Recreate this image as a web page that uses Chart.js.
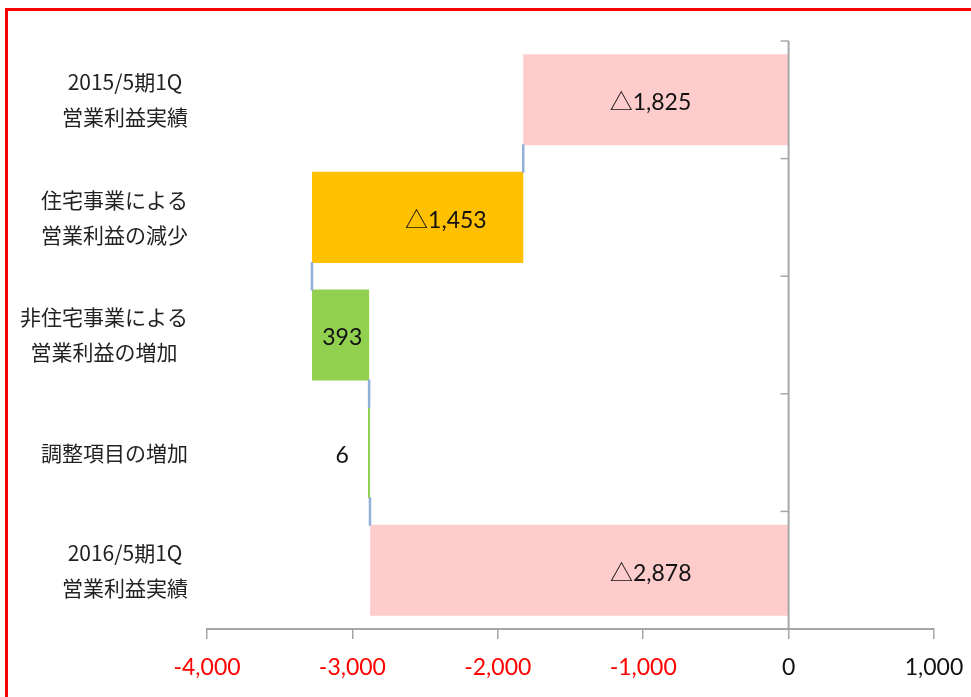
<!DOCTYPE html>
<html lang="ja">
<head>
<meta charset="utf-8">
<title>営業利益増減</title>
<style>
  html, body { margin: 0; padding: 0; background: #ffffff; overflow: hidden; }
  #wrap { position: relative; width: 971px; height: 697px; }
  #frame { position: absolute; left: 5px; top: 8px; width: 1000px; height: 740px;
           border: 3px solid #ff0000; box-sizing: border-box; pointer-events: none; }
  canvas { position: absolute; left: 0; top: 0; }
</style>
<script src="https://cdn.jsdelivr.net/npm/chart.js@4.4.1/dist/chart.umd.min.js"></script>
</head>
<body>
<div id="wrap">
  <canvas id="chart" width="971" height="697"></canvas>
  <div id="frame"></div>
</div>
<script>
// Category rows, top to bottom (each entry = lines of the row label)
const categories = [
  ['2015/5期1Q', '営業利益実績'],
  ['住宅事業による', '営業利益の減少'],
  ['非住宅事業による', '営業利益の増加'],
  ['調整項目の増加'],
  ['2016/5期1Q', '営業利益実績']
];
// Operating profit (million yen): opening total, three changes, closing total
const amounts = [-1825, -1453, 393, 6, -2878];
const isTotal = [true, false, false, false, true];
// Value axis ticks
const xTicks = [-4000, -3000, -2000, -1000, 0, 1000];

// Floating bar ranges of the waterfall
let running = 0;
const ranges = amounts.map((v, i) => {
  if (isTotal[i]) { running = v; return [0, v]; }
  const start = running;
  running += v;
  return [start, running];
});

const fmt = v => (v < 0 ? '△' + Math.abs(v).toLocaleString('en-US') : v.toLocaleString('en-US'));

const NUM_FONT = "Lato, 'Noto Sans CJK JP', sans-serif";
const JP_FONT = "'Noto Sans CJK JP', sans-serif";
const AXIS_GREY = '#a6a6a6';

const waterfallDecor = {
  id: 'waterfallDecor',
  afterDatasetsDraw(chart, args, opts) {
    const ctx = chart.ctx;
    const xs = chart.scales.x, ys = chart.scales.y;
    const bars = chart.getDatasetMeta(0).data;
    const x0 = xs.getPixelForValue(0);
    ctx.save();

    // vertical axis at zero with tick marks on the category boundaries
    ctx.strokeStyle = AXIS_GREY;
    ctx.lineWidth = 2;
    ctx.beginPath();
    ctx.moveTo(x0, chart.chartArea.top);
    ctx.lineTo(x0, chart.chartArea.bottom);
    ctx.stroke();
    ctx.lineWidth = 1.5;
    for (let i = 0; i <= categories.length; i++) {
      const y = ys.getPixelForValue(i - 0.5);
      ctx.beginPath();
      ctx.moveTo(x0 - 8, y);
      ctx.lineTo(x0, y);
      ctx.stroke();
    }

    // connector lines between consecutive bars
    ctx.strokeStyle = '#8fb0d8';
    ctx.lineWidth = 2.5;
    ctx.lineCap = 'round';
    for (let i = 0; i < bars.length - 1; i++) {
      const a = bars[i], b = bars[i + 1];
      const x = xs.getPixelForValue(ranges[i][1]);
      ctx.beginPath();
      ctx.moveTo(x, a.y + a.height / 2);
      ctx.lineTo(x, b.y - b.height / 2);
      ctx.stroke();
    }

    // value labels
    ctx.fillStyle = '#111111';
    ctx.font = '23px ' + NUM_FONT;
    ctx.textAlign = 'center';
    ctx.textBaseline = 'middle';
    bars.forEach((bar, i) => {
      const cx = xs.getPixelForValue(opts.labelCenter[i]);
      ctx.fillText(fmt(amounts[i]), cx, bar.y + 3);
    });

    // row labels: block right-aligned, lines centred inside the block
    ctx.fillStyle = '#222222';
    ctx.font = '21px ' + JP_FONT;
    const right = ys.right - 19;
    categories.forEach((lines, i) => {
      const cy = ys.getPixelForValue(i);
      const w = Math.max(...lines.map(t => ctx.measureText(t).width));
      const cx = right - w / 2;
      const pitch = 35;
      lines.forEach((t, k) => {
        ctx.fillText(t, cx, cy + (k - (lines.length - 1) / 2) * pitch);
      });
    });
    ctx.restore();
  }
};

new Chart(document.getElementById('chart'), {
  type: 'bar',
  data: {
    labels: categories,
    datasets: [{
      data: ranges,
      backgroundColor: ['#ffcccc', '#ffc000', '#92d050', '#92d050', '#ffcccc'],
      borderWidth: 0,
      categoryPercentage: 1,
      barPercentage: 0.775,
      minBarLength: 2
    }]
  },
  options: {
    indexAxis: 'y',
    responsive: false,
    animation: false,
    layout: { padding: { top: 41, right: 37, bottom: 0, left: 0 } },
    plugins: {
      legend: { display: false },
      tooltip: { enabled: false },
      waterfallDecor: { labelCenter: [-950, -2357, -3070, -3071, -948] }
    },
    scales: {
      x: {
        type: 'linear',
        min: -4000,
        max: 1000,
        afterBuildTicks: s => { s.ticks = xTicks.map(v => ({ value: v })); },
        afterFit: s => { s.height = 68; s.paddingLeft = 0; s.paddingRight = 0; },
        border: { display: true, color: AXIS_GREY, width: 2 },
        grid: { drawOnChartArea: false, drawTicks: true, tickLength: 10, tickColor: AXIS_GREY, lineWidth: 1.5 },
        ticks: {
          padding: 15,
          font: { size: 23, family: NUM_FONT },
          color: c => (c.tick && c.tick.value < 0 ? '#ff0000' : '#111111'),
          callback: v => v.toLocaleString('en-US')
        }
      },
      y: {
        type: 'category',
        offset: true,
        afterFit: s => { s.width = 207; },
        border: { display: false },
        grid: { display: false },
        ticks: { display: false }
      }
    }
  },
  plugins: [waterfallDecor]
});
</script>
</body>
</html>
